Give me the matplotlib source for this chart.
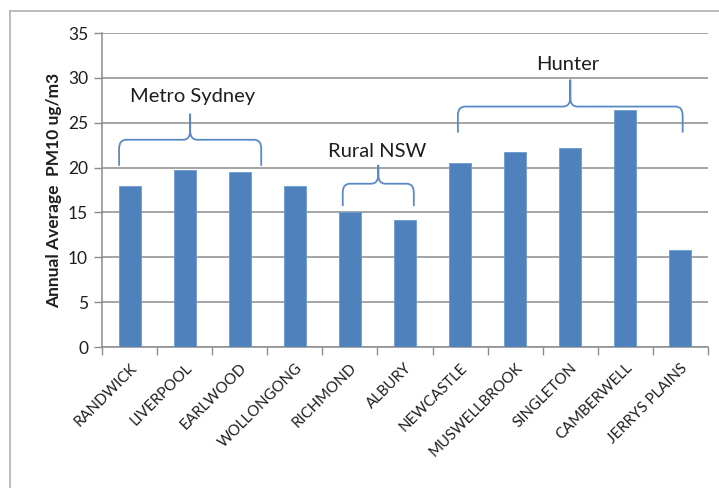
"""Annual average PM10 by monitoring site, NSW."""

import matplotlib

matplotlib.use("Agg")
import matplotlib.pyplot as plt
from matplotlib.lines import Line2D
from matplotlib.patches import PathPatch
from matplotlib.path import Path

sites = [
    "RANDWICK", "LIVERPOOL", "EARLWOOD", "WOLLONGONG", "RICHMOND", "ALBURY",
    "NEWCASTLE", "MUSWELLBROOK", "SINGLETON", "CAMBERWELL", "JERRYS PLAINS",
]
pm10 = [18.0, 19.7, 19.55, 18.0, 15.0, 14.2, 20.5, 21.7, 22.2, 26.4, 10.8]

group_names = ["Metro Sydney", "Rural NSW", "Hunter"]

plt.rcParams["font.family"] = ["Lato", "DejaVu Sans"]

BAR = "#4F81BD"
BRACE = "#5A8AC6"
GRID = "#8c8c8c"
TXT = "#1e1e1e"


def brace(ax, x0, x1, ybot, yh, ypeak, rx=0.13, ry=1.0):
    xc = (x0 + x1) / 2
    verts = [
        (x0, ybot), (x0, yh - ry),
        (x0, yh), (x0 + rx, yh),
        (xc - rx, yh),
        (xc, yh), (xc, yh + ry),
        (xc, ypeak),
        (xc, yh + ry),
        (xc, yh), (xc + rx, yh),
        (x1 - rx, yh),
        (x1, yh), (x1, yh - ry),
        (x1, ybot),
    ]
    codes = [
        Path.MOVETO, Path.LINETO,
        Path.CURVE3, Path.CURVE3,
        Path.LINETO,
        Path.CURVE3, Path.CURVE3,
        Path.LINETO,
        Path.LINETO,
        Path.CURVE3, Path.CURVE3,
        Path.LINETO,
        Path.CURVE3, Path.CURVE3,
        Path.LINETO,
    ]
    ax.add_patch(PathPatch(Path(verts, codes), fill=False, edgecolor=BRACE,
                           linewidth=1.3, clip_on=False, zorder=4))


fig = plt.figure(figsize=(7.19, 4.88), dpi=100)
ax = fig.add_axes([102 / 719, 1 - 347 / 488, 606 / 719, 314 / 488])

x = list(range(len(sites)))
ax.bar(x, pm10, width=0.4, color=BAR, edgecolor="#6f9ad0", linewidth=0.6, zorder=3)

ax.set_xlim(-0.5, len(sites) - 0.5)
ax.set_ylim(0, 35)
ax.set_yticks(range(0, 36, 5))
ax.grid(axis="y", color=GRID, linewidth=1.1, zorder=0)

ax.set_xticks(x)
ax.set_xticklabels(sites, rotation=45, ha="right", rotation_mode="anchor",
                   fontsize=10.8, color=TXT)
ax.set_xticks([i - 0.5 for i in range(len(sites) + 1)], minor=True)
ax.tick_params(axis="x", which="major", length=0, pad=10)
ax.tick_params(axis="x", which="minor", length=6, color=GRID, width=1)
ax.tick_params(axis="y", length=6, color=GRID, width=1, labelsize=12.5,
               labelcolor=TXT, pad=4)

for side in ["top", "right"]:
    ax.spines[side].set_visible(False)
for side in ["left", "bottom"]:
    ax.spines[side].set_color(GRID)
    ax.spines[side].set_linewidth(1.1)

ax.set_ylabel("Annual Average  PM10 ug/m3", fontsize=12.5, fontweight="bold",
              color=TXT, labelpad=4)

# group braces
brace(ax, -0.19, 2.39, 20.2, 23.1, 26.0)
brace(ax, 3.87, 5.16, 15.7, 18.2, 20.3)
brace(ax, 5.96, 10.04, 23.9, 26.8, 29.8)
ax.text(1.15, 27.9, group_names[0], ha="center", va="center", fontsize=14.5, color=TXT)
ax.text(4.5, 21.8, group_names[1], ha="center", va="center", fontsize=14.5, color=TXT)
ax.text(7.95, 31.5, group_names[2], ha="center", va="center", fontsize=14.5, color=TXT)

# outer chart frame
fig.add_artist(Line2D([10 / 719, 10 / 719], [0, 1 - 11 / 488],
                      transform=fig.transFigure, color="#b0b0b0", linewidth=1.2))
fig.add_artist(Line2D([10 / 719, 1], [1 - 11 / 488, 1 - 11 / 488],
                      transform=fig.transFigure, color="#b0b0b0", linewidth=1.2))

fig.savefig("out.png", dpi=100)
